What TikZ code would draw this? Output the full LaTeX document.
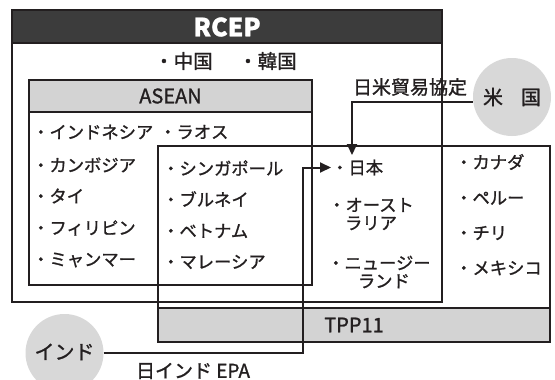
\documentclass[tikz,border=0pt]{standalone}
\usepackage{fontspec}
\setmainfont{Noto Sans CJK JP}[RawFeature={embolden=1.2}]
\usetikzlibrary{arrows.meta}
\definecolor{dark}{HTML}{3C3C3C}
\definecolor{lgray}{HTML}{D3D3D3}
\definecolor{cgray}{HTML}{D8D8D8}
\definecolor{ink}{HTML}{231F20}
\begin{document}
\begin{tikzpicture}[x=1pt,y=-1pt,
 box/.style={draw=ink,line width=1.2pt},
 item/.style={anchor=west,inner sep=0pt,font=\fontsize{17.3}{18}\selectfont,text=ink},
 head/.style={inner sep=0pt,font=\fontsize{20}{20}\selectfont,text=ink},
 lab/.style={inner sep=0pt,font=\fontsize{19}{19}\selectfont,text=ink},
 conn/.style={draw=ink,line width=2pt},
 arr/.style={-{Triangle[length=11pt,width=10pt]}},
 circ/.style={circle,fill=cgray,minimum size=78pt,inner sep=0pt,font=\fontsize{20}{20}\selectfont,text=ink},
]
\useasboundingbox (0,0) rectangle (555,380);
\fill[white] (0,0) rectangle (555,380);
% fills
\fill[dark] (12,10) rectangle (442,43);
\fill[lgray] (29,80) rectangle (312,112);
\fill[lgray] (158,308) rectangle (550,342);
% outlines
\draw[box] (12,10) rectangle (442,302);
\draw[box] (12,43) -- (442,43);
\draw[box] (29,80) rectangle (312,285);
\draw[box] (29,112) -- (312,112);
\draw[box] (158,146) rectangle (550,342);
\draw[box] (158,308) -- (550,308);
% headers
\node[inner sep=0pt,text=white,font=\fontsize{25}{25}\selectfont\bfseries] (rcep) at (227,27) {RCEP};
\node[head] (asean) at (170.5,96) {ASEAN};
\node[head] (tpp) at (354,325) {TPP11};
% RCEP only
\node[item,font=\fontsize{19.5}{20}\selectfont] (cn) at (154,61) {・中国};
\node[item,font=\fontsize{19.5}{20}\selectfont] (kr) at (238,61) {・韓国};
% ASEAN left column
\node[item] (idn) at (32,132) {・インドネシア};
\node[item] (lao) at (159,132) {・ラオス};
\node[item] (khm) at (32,165) {・カンボジア};
\node[item] (tha) at (32,196) {・タイ};
\node[item] (phl) at (32,228) {・フィリピン};
\node[item] (mmr) at (32,260) {・ミャンマー};
% ASEAN & TPP
\node[item] (sgp) at (162,168) {・シンガポール};
\node[item] (brn) at (162,199) {・ブルネイ};
\node[item] (vnm) at (162,231) {・ベトナム};
\node[item] (mys) at (162,262) {・マレーシア};
% RCEP & TPP
\node[item] (jp) at (331,167.5) {・日本};
\node[item,align=center] (aus) at (328,214) {・オースト\\ラリア};
\node[item,align=center] (nzl) at (327,272) {・ニュージー\\\hspace*{10pt}ランド};
% TPP only
\node[item] (can) at (455,162) {・カナダ};
\node[item] (per) at (455,198) {・ペルー};
\node[item] (chl) at (455,233) {・チリ};
\node[item] (mex) at (455,268) {・メキシコ};
% partners
\node[circ] (us) at (512,97) {米\hspace{0.9em}国};
\node[circ] (in) at (64.5,353) {\raisebox{3pt}{インド}};
\node[lab] (usl) at (410,87) {日米貿易協定};
\node[lab] (inl) at (193,371) {日インド EPA};
% connectors
\coordinate (usend) at (352,155);
\coordinate (ibend) at (303,353);
\draw[conn,arr] ([yshift=-5pt]us.west) -| (usend);
\draw[conn,arr] (in.east) -- (ibend) |- (jp.west);
\end{tikzpicture}
\end{document}
